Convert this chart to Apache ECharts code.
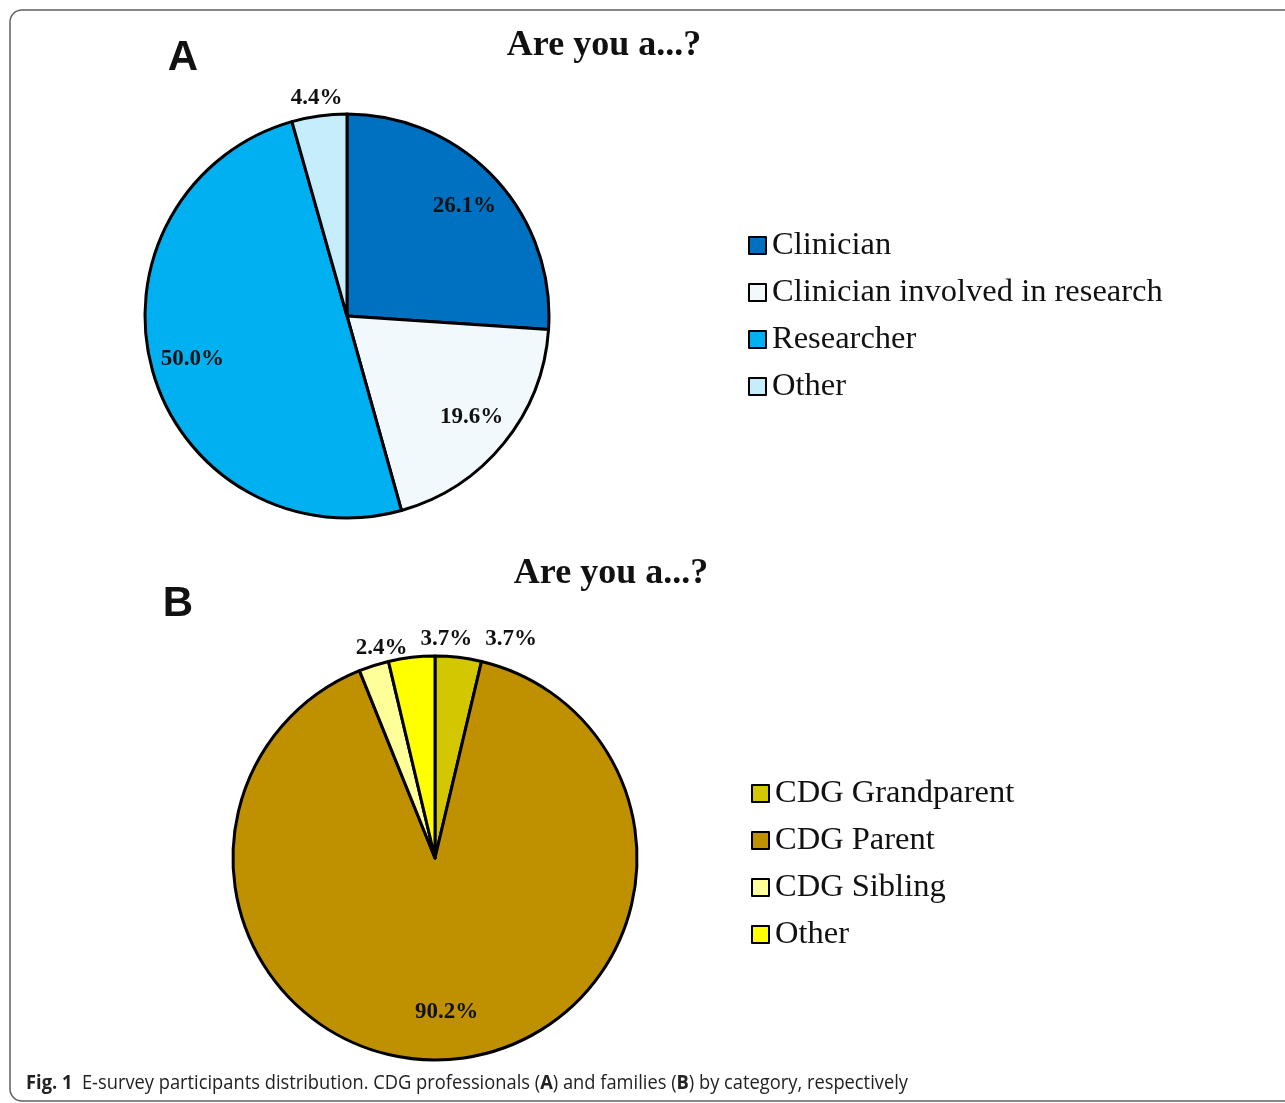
<!DOCTYPE html>
<html>
<head>
<meta charset="utf-8">
<title>E-survey participants distribution</title>
<script src="https://cdn.jsdelivr.net/npm/echarts@6/dist/echarts.min.js"></script>
<style>
  html, body { margin: 0; padding: 0; background: #ffffff; }
  #chart { width: 1285px; height: 1103px; }
</style>
</head>
<body>
<div id="chart"></div>
<script>
// Panel A: CDG professionals
const professionalCategories = ['Clinician', 'Clinician involved in research', 'Researcher', 'Other'];
const professionalShares = [26.1, 19.6, 50.0, 4.4];
const professionalColors = ['#0070C0', '#F2F9FD', '#00B0F0', '#C5EDFB'];

// Panel B: CDG families
const familyCategories = ['CDG Grandparent', 'CDG Parent', 'CDG Sibling', 'Other'];
const familyShares = [3.7, 90.2, 2.4, 3.7];
const familyColors = ['#D2C700', '#BF9000', '#FFFF99', '#FFFF00'];

const panelTitle = 'Are you a...?';

const SERIF = '"Liberation Serif", "DejaVu Serif", serif';
const SMALL_SLICE = 10; // slices below this share get their label outside the pie

// Names are keyed per panel so both panels can hold an "Other" slice
function key(panel, name) { return panel + '|' + name; }
function plain(k) { return k.split('|')[1]; }

function pct(v) { return v.toFixed(1) + '%'; }
// thin blank margins keep neighbouring outer labels apart when they are shifted
const GAP = '\u2009\u200A';

function panelSeries(panel, cats, vals, colors, center, radius, innerRatio) {
  const base = cats.map((c, i) => ({
    name: key(panel, c),
    value: vals[i],
    itemStyle: { color: colors[i] }
  }));
  const labelFont = {
    fontFamily: SERIF, fontWeight: 'bold', fontSize: 23, color: '#111'
  };
  const ghost = (inside) => cats.map((c, i) => ({
    name: key(panel, c),
    value: vals[i],
    label: { show: inside ? vals[i] >= SMALL_SLICE : vals[i] < SMALL_SLICE }
  }));
  const labelSeries = (r, layout, fmt) => ({
    type: 'pie',
    center: center,
    radius: r,
    startAngle: 90,
    clockwise: true,
    animation: false,
    silent: true,
    avoidLabelOverlap: false,
    labelLayout: layout,
    itemStyle: { color: 'rgba(0,0,0,0)', borderWidth: 0 },
    label: Object.assign({ position: 'inside', formatter: fmt }, labelFont),
    labelLine: { show: false }
  });
  return [
    {
      type: 'pie',
      center: center,
      radius: [0, radius],
      startAngle: 90,
      clockwise: true,
      animation: false,
      silent: true,
      label: { show: false },
      labelLine: { show: false },
      itemStyle: { borderColor: '#000', borderWidth: 3 },
      data: base
    },
    // labels for large slices, drawn inside the pie
    Object.assign(
      labelSeries([radius * innerRatio, radius], { hideOverlap: false }, p => pct(p.value)),
      { data: ghost(true) }
    ),
    // labels for thin slices, drawn just outside the rim and spread sideways when crowded
    Object.assign(
      labelSeries([radius, radius + 30], { hideOverlap: false, moveOverlap: 'shiftX' }, p => GAP + pct(p.value) + GAP),
      { data: ghost(false) }
    )
  ];
}

function panelLegend(panel, cats, left, top) {
  return {
    orient: 'vertical',
    left: left,
    top: top,
    padding: 0,
    icon: 'rect',
    itemWidth: 17,
    itemHeight: 17,
    itemGap: 14,
    selectedMode: false,
    data: cats.map(c => key(panel, c)),
    formatter: plain,
    itemStyle: { borderColor: '#000', borderWidth: 2 },
    textStyle: { fontFamily: SERIF, fontSize: 32.5, color: '#111', padding: [0, 0, 0, 1] }
  };
}

const chart = echarts.init(document.getElementById('chart'), null, { renderer: 'canvas' });

chart.setOption({
  backgroundColor: '#ffffff',
  animation: false,
  title: [
    {
      text: panelTitle, left: 599, top: 41, textAlign: 'center', textVerticalAlign: 'middle',
      textStyle: { fontFamily: SERIF, fontWeight: 'bold', fontSize: 36, color: '#111' }
    },
    {
      text: panelTitle, left: 606, top: 569, textAlign: 'center', textVerticalAlign: 'middle',
      textStyle: { fontFamily: SERIF, fontWeight: 'bold', fontSize: 36, color: '#111' }
    }
  ],
  legend: [
    panelLegend('A', professionalCategories, 748, 229),
    panelLegend('B', familyCategories, 751, 777)
  ],
  graphic: [
    {
      type: 'rect', silent: true, z: -1,
      shape: { x: 10, y: 10, width: 1300, height: 1091, r: 12 },
      style: { fill: 'none', stroke: '#606060', lineWidth: 1.5 }
    },
    {
      type: 'text', x: 183, y: 58, silent: true,
      style: {
        text: 'A', font: 'bold 42px "Liberation Sans", Arial, sans-serif', fill: '#111',
        align: 'center', verticalAlign: 'middle'
      }
    },
    {
      type: 'text', x: 178, y: 604, silent: true,
      style: {
        text: 'B', font: 'bold 42px "Liberation Sans", Arial, sans-serif', fill: '#111',
        align: 'center', verticalAlign: 'middle'
      }
    },
    {
      type: 'group', x: 26, y: 1073, scaleX: 0.915, silent: true,
      children: [
        {
          type: 'text', x: 0, y: 0,
          style: {
            text: '{b|Fig. 1}  E-survey participants distribution. CDG professionals ({b|A}) and families ({b|B}) by category, respectively',
            font: '20px "Open Sans", "Noto Sans", sans-serif',
            fill: '#222',
            rich: {
              b: { font: 'bold 20px "Open Sans", "Noto Sans", sans-serif', fill: '#222' }
            }
          }
        }
      ]
    }
  ],
  series: [
    ...panelSeries('A', professionalCategories, professionalShares, professionalColors, [347, 316], 202, 0.56),
    ...panelSeries('B', familyCategories, familyShares, familyColors, [435, 858], 202, 0.5)
  ]
});
</script>
</body>
</html>
